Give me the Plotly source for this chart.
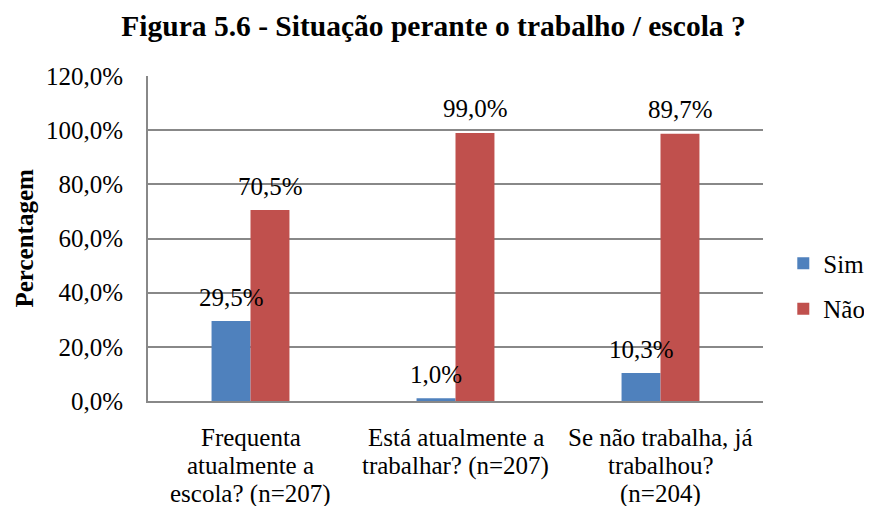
import plotly.graph_objects as go

category_lines = [["Frequenta", "atualmente a", "escola? (n=207)"],
                  ["Está atualmente a", "trabalhar? (n=207)"],
                  ["Se não trabalha, já", "trabalhou?", "(n=204)"]]
categories = ["Frequenta atualmente a escola? (n=207)",
              "Está atualmente a trabalhar? (n=207)",
              "Se não trabalha, já trabalhou? (n=204)"]
sim_values = [29.5, 1.0, 10.3]
nao_values = [70.5, 99.0, 98.7]
sim_labels = ["29,5%", "1,0%", "10,3%"]
nao_labels = ["70,5%", "99,0%", "89,7%"]
y_ticks = [0, 20, 40, 60, 80, 100, 120]
y_ticktext = ["0,0%", "20,0%", "40,0%", "60,0%", "80,0%", "100,0%", "120,0%"]

FONT = "Liberation Serif"
BLUE = "#4F81BD"
RED = "#C0504D"
GRID = "#888888"
FS = 25

fig = go.Figure()
fig.add_trace(go.Bar(name="Sim", x=categories, y=sim_values, marker_color=BLUE,
                     marker_line_width=0, legendgroup="a"))
fig.add_trace(go.Bar(name="Não", x=categories, y=nao_values, marker_color=RED,
                     marker_line_width=0, legendgroup="b"))

for cat, v, lab in zip(categories, sim_values, sim_labels):
    fig.add_annotation(x=cat, y=v, text=lab, xref="x", yref="y", showarrow=False,
                       xshift=-19.5, yshift=24, yanchor="middle",
                       font=dict(family=FONT, size=FS, color="black"))
for cat, v, lab in zip(categories, nao_values, nao_labels):
    fig.add_annotation(x=cat, y=v, text=lab, xref="x", yref="y", showarrow=False,
                       xshift=19.5, yshift=24, yanchor="middle",
                       font=dict(family=FONT, size=FS, color="black"))

for cat, lines in zip(categories, category_lines):
    for i, line in enumerate(lines):
        fig.add_annotation(x=cat, y=0, text=line, xref="x", yref="y", showarrow=False,
                           yshift=-(36 + i * 28.7), yanchor="middle",
                           font=dict(family=FONT, size=FS, color="black"))

fig.add_annotation(x=-124 / 615, y=0.5, xref="paper", yref="paper", text="<b>Percentagem</b>",
                   textangle=-90, showarrow=False, xanchor="center", yanchor="middle",
                   font=dict(family=FONT, size=FS, color="black"))

fig.update_layout(
    width=864, height=498,
    margin=dict(l=140, r=109, t=68, b=105, autoexpand=False),
    paper_bgcolor="white", plot_bgcolor="white",
    font=dict(family=FONT, size=FS, color="black"),
    barmode="group", bargap=0.62, bargroupgap=0,
    title=dict(text="<b>Figura 5.6 - Situação perante o trabalho / escola ?</b>",
               x=0.4925, xanchor="center", y=0.965, yanchor="middle",
               font=dict(family=FONT, size=29.5, color="black")),
    legend=dict(x=1.033, xanchor="left", y=0.354, yanchor="middle",
                font=dict(family=FONT, size=FS, color="black"),
                tracegroupgap=10, itemwidth=30, traceorder="grouped"),
    xaxis=dict(showgrid=False, showline=True, linecolor=GRID, linewidth=2,
               ticks="", showticklabels=False),
    yaxis=dict(range=[0, 120], tickvals=y_ticks, ticktext=y_ticktext,
               showgrid=True, gridcolor=GRID, gridwidth=2,
               showline=True, linecolor=GRID, linewidth=2,
               zeroline=False, ticks="", ticklabelstandoff=18,
               tickfont=dict(family=FONT, size=FS, color="black")),
)

fig.write_html("out.html")
